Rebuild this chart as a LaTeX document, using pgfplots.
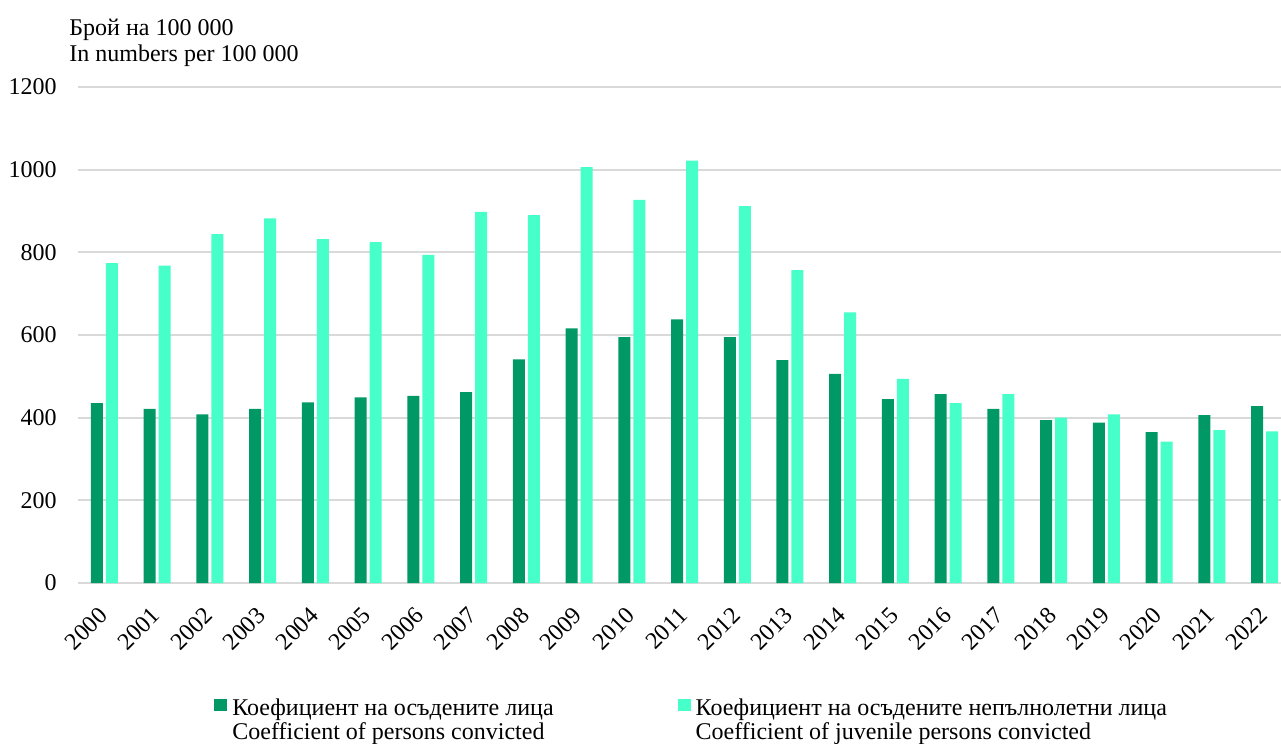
\documentclass[border=0pt]{standalone}
\usepackage{pgfplots}
\pgfplotsset{compat=1.18}
\usepackage{fontspec}
\setmainfont{Liberation Serif}

\definecolor{darkgr}{HTML}{009966}
\definecolor{lightgr}{HTML}{47FFC8}
\definecolor{gridgr}{HTML}{D9D9D9}

\begin{document}
\fontsize{12}{12}\selectfont
\begin{tikzpicture}
\begin{axis}[
    at={(39pt,-291.5pt)}, anchor=south west,
    scale only axis,
    width=601.5pt, height=248pt,
    ybar, bar width=6pt,
    xmin=1999.5, xmax=2022.31,
    ymin=0, ymax=1200,
    ytick={0,200,...,1200},
    xtick=data,
    axis line style={draw=none},
    major tick style={draw=none},
    ymajorgrids,
    major grid style={draw=gridgr, line width=0.9pt},
    /pgf/number format/assume math mode=true,
    /pgf/number format/1000 sep={},
    ticklabel style={font=\fontsize{12}{12}\selectfont},
    yticklabel style={anchor=east, inner sep=0pt, xshift=-10.5pt},
    xticklabel style={inner sep=0pt, xshift=-3.5pt, yshift=-7pt, rotate=45, anchor=north east},
    clip=false,
    legend columns=2,
    legend style={
        draw=none, fill=none, inner sep=0pt,
        at={(axis description cs:0,0)}, anchor=north west,
        xshift=68pt, yshift=-55.5pt,
        font=\fontsize{12}{12}\selectfont,
        cells={anchor=base west},
        column sep=0.5pt,
        /tikz/every even column/.append style={column sep=60pt},
    },
    legend image code/.code={\fill[#1] (0pt,2pt) rectangle (6.5pt,8.3pt);},
]
\addplot[fill=darkgr, draw=none, bar shift=-3.75pt] coordinates {
(2000,435) (2001,421) (2002,408) (2003,421) (2004,437) (2005,449)
(2006,453) (2007,462) (2008,541) (2009,616) (2010,595) (2011,638)
(2012,595) (2013,539) (2014,506) (2015,445) (2016,457) (2017,421)
(2018,394) (2019,388) (2020,365) (2021,406) (2022,428)};
\addlegendentry{\begin{tabular}[t]{@{}l@{}}Коефициент на осъдените лица\\Coefficient of persons convicted\end{tabular}}
\addplot[fill=lightgr, draw=none, bar shift=3.75pt] coordinates {
(2000,774) (2001,768) (2002,844) (2003,882) (2004,832) (2005,825)
(2006,794) (2007,898) (2008,890) (2009,1006) (2010,927) (2011,1022)
(2012,912) (2013,757) (2014,655) (2015,494) (2016,435) (2017,457)
(2018,400) (2019,408) (2020,342) (2021,370) (2022,367)};
\addlegendentry{\begin{tabular}[t]{@{}l@{}}Коефициент на осъдените непълнолетни лица\\Coefficient of juvenile persons convicted\end{tabular}}
\end{axis}
\node[anchor=base west, inner sep=0pt] at (34.5pt,-17.5pt) {Брой на 100 000};
\node[anchor=base west, inner sep=0pt] at (34.5pt,-30.85pt) {In numbers per 100 000};
\pgfresetboundingbox
\useasboundingbox (0pt,0pt) rectangle (640.5pt,-372pt);
\end{tikzpicture}
\end{document}
